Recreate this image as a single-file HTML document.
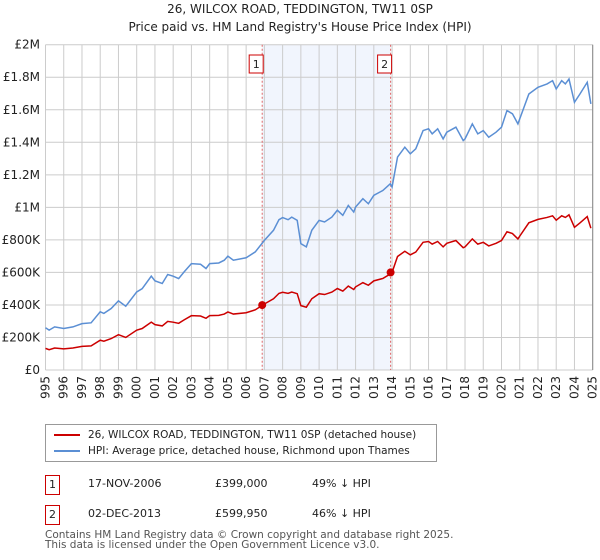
<!DOCTYPE html>
<html><head><meta charset="utf-8"><style>
body{margin:0;background:#fff;font-family:"DejaVu Sans","Liberation Sans",sans-serif;color:#222}
#wrap{position:relative;width:600px;height:560px;overflow:hidden}
.t{position:absolute;font-size:11px;white-space:nowrap}
svg text{font-family:"DejaVu Sans","Liberation Sans",sans-serif}
</style></head><body>
<div id="wrap">
<svg id="chart" width="600" height="400" style="position:absolute;left:0;top:0">
<text x="300" y="13" text-anchor="middle" font-size="12" fill="#222">26, WILCOX ROAD, TEDDINGTON, TW11 0SP</text>
<text x="300" y="31" text-anchor="middle" font-size="12" fill="#222">Price paid vs. HM Land Registry's House Price Index (HPI)</text>
<g id="grid"></g><g id="marks"></g>
</svg>
<div style="position:absolute;left:45px;top:424px;width:392px;height:38px;border:1px solid #999;box-sizing:border-box">
 <div style="position:absolute;left:8px;top:4px;font-size:10.5px;white-space:nowrap"><span style="display:inline-block;width:26px;height:2px;background:#cc0000;vertical-align:middle;margin-right:8px"></span>26, WILCOX ROAD, TEDDINGTON, TW11 0SP (detached house)</div>
 <div style="position:absolute;left:8px;top:20px;font-size:10.5px;white-space:nowrap"><span style="display:inline-block;width:26px;height:2px;background:#5b8fd4;vertical-align:middle;margin-right:8px"></span>HPI: Average price, detached house, Richmond upon Thames</div>
</div>
<div>
<div class="t" style="left:45px;top:475px;width:13px;height:18px;border:1px solid #cc0000;text-align:center;line-height:18px">1</div>
<div class="t" style="left:88px;top:477px">17-NOV-2006</div>
<div class="t" style="left:215px;top:477px">£399,000</div>
<div class="t" style="left:312px;top:477px">49% ↓ HPI</div>
</div>
<div>
<div class="t" style="left:45px;top:505px;width:13px;height:18px;border:1px solid #cc0000;text-align:center;line-height:18px">2</div>
<div class="t" style="left:88px;top:507px">02-DEC-2013</div>
<div class="t" style="left:215px;top:507px">£599,950</div>
<div class="t" style="left:312px;top:507px">46% ↓ HPI</div>
</div>
<div class="t" style="left:45px;top:530px;font-size:10.5px;line-height:10px;color:#555">Contains HM Land Registry data © Crown copyright and database right 2025.<br>This data is licensed under the Open Government Licence v3.0.</div>
</div>
<script>
const years=[1995,1995.2,1995.5,1996,1996.5,1997,1997.5,1998,1998.2,1998.6,1999,1999.4,2000,2000.3,2000.8,2001,2001.4,2001.7,2002,2002.3,2002.6,2003,2003.5,2003.8,2004,2004.5,2004.8,2005,2005.3,2006,2006.5,2007,2007.5,2007.8,2008,2008.3,2008.5,2008.8,2009,2009.3,2009.6,2010,2010.3,2010.7,2011,2011.3,2011.6,2011.9,2012,2012.4,2012.7,2013,2013.5,2013.9,2014,2014.3,2014.7,2015,2015.3,2015.7,2016,2016.2,2016.5,2016.8,2017,2017.5,2017.9,2018,2018.4,2018.7,2019,2019.3,2019.7,2020,2020.3,2020.6,2020.9,2021,2021.5,2022,2022.5,2022.8,2023,2023.3,2023.5,2023.7,2024,2024.3,2024.7,2024.9];
const hpiValues=[260,245,265,255,265,285,290,358,348,378,425,392,480,500,577,548,532,587,577,562,603,654,650,624,654,658,675,700,675,690,726,797,859,924,937,924,940,920,777,757,859,920,910,940,982,951,1012,971,1002,1053,1022,1074,1104,1145,1125,1309,1370,1329,1360,1472,1483,1452,1483,1421,1462,1493,1411,1421,1513,1452,1472,1431,1462,1493,1595,1575,1513,1544,1697,1738,1759,1779,1728,1779,1759,1789,1646,1697,1769,1636];
const propertyValues=[133,125,135,130,135,145,148,183,177,193,217,200,245,255,294,279,271,299,294,287,308,334,332,318,334,336,344,357,344,352,370,406,438,471,478,471,479,469,396,386,438,469,464,479,501,485,516,495,511,537,521,548,563,590,600,698,730,708,725,785,790,774,790,757,779,796,752,757,806,774,785,763,779,796,850,839,806,823,905,926,938,948,921,948,938,954,877,904,943,872];
const saleYears=[2006.88,2013.92];
const salePrices=[399,599.95];
const saleLabels=["1","2"];
const yTicks=[0,200,400,600,800,1000,1200,1400,1600,1800,2000];
const yTickLabels=["£0","£200K","£400K","£600K","£800K","£1M","£1.2M","£1.4M","£1.6M","£1.8M","£2M"];
const xTicks=[1995,1996,1997,1998,1999,2000,2001,2002,2003,2004,2005,2006,2007,2008,2009,2010,2011,2012,2013,2014,2015,2016,2017,2018,2019,2020,2021,2022,2023,2024,2025];

const X0=45.5,X1=592.7,Y0=370,Y1=44.7;
const xS=v=>X0+(v-1995)/30*(X1-X0);
const yS=v=>Y0-v/2000*(Y0-Y1);
const NS="http://www.w3.org/2000/svg";
const grid=document.getElementById('grid'),marks=document.getElementById('marks');
function mk(p,tag,at){const e=document.createElementNS(NS,tag);for(const k in at)e.setAttribute(k,at[k]);p.appendChild(e);return e;}
const band=mk(grid,'rect',{x:xS(saleYears[0]),y:Y1,width:xS(saleYears[1])-xS(saleYears[0]),height:Y0-Y1,fill:'#eef3fd',opacity:0.8});


yTicks.forEach((t,i)=>{
 const l=mk(grid,'line',{x1:X0,x2:X1,y1:yS(t),y2:yS(t),stroke:'#ccc','stroke-width':1});
 
 
 const tx=mk(grid,'text',{x:40,y:yS(t)+4,'text-anchor':'end','font-size':12,fill:'#222'});
 tx.textContent=yTickLabels[i];
 
 
});
xTicks.forEach(t=>{
 const l=mk(grid,'line',{x1:xS(t),x2:xS(t),y1:Y1,y2:Y0,stroke:'#ccc','stroke-width':1});
 
 
 const tx=mk(grid,'text',{x:0,y:0,'text-anchor':'end','font-size':12,fill:'#222',transform:`translate(${xS(t)+4},${Y0+6}) rotate(-90)`});
 tx.textContent=t;
 
 
});
const ax=mk(grid,'line',{x1:X1,x2:X1,y1:Y1,y2:Y0,stroke:'#888','stroke-width':1});


saleYears.forEach((s,i)=>{
 const l=mk(marks,'line',{x1:xS(s),x2:xS(s),y1:Y1,y2:Y0,stroke:'#e06666','stroke-width':1,'stroke-dasharray':'2,2'});
 
 
 const r=mk(marks,'rect',{x:xS(s)-13,y:55,width:14,height:18,fill:'#fff',stroke:'#cc0000'});
 
 
 const t=mk(marks,'text',{x:xS(s)-6,y:68,'text-anchor':'middle','font-size':11,fill:'#222'});
 t.textContent=saleLabels[i];
 
 
});
const hp=mk(marks,'polyline',{points:years.map((y,i)=>xS(y)+','+yS(hpiValues[i])).join(' '),fill:'none',stroke:'#5b8fd4','stroke-width':1.5});


const pp=mk(marks,'polyline',{points:years.map((y,i)=>xS(y)+','+yS(propertyValues[i])).join(' '),fill:'none',stroke:'#cc0000','stroke-width':1.5});


saleYears.forEach((s,i)=>{
 const c=mk(marks,'circle',{cx:xS(s),cy:yS(salePrices[i]),r:4,fill:'#cc0000'});
 
 
});
</script>
</body></html>
